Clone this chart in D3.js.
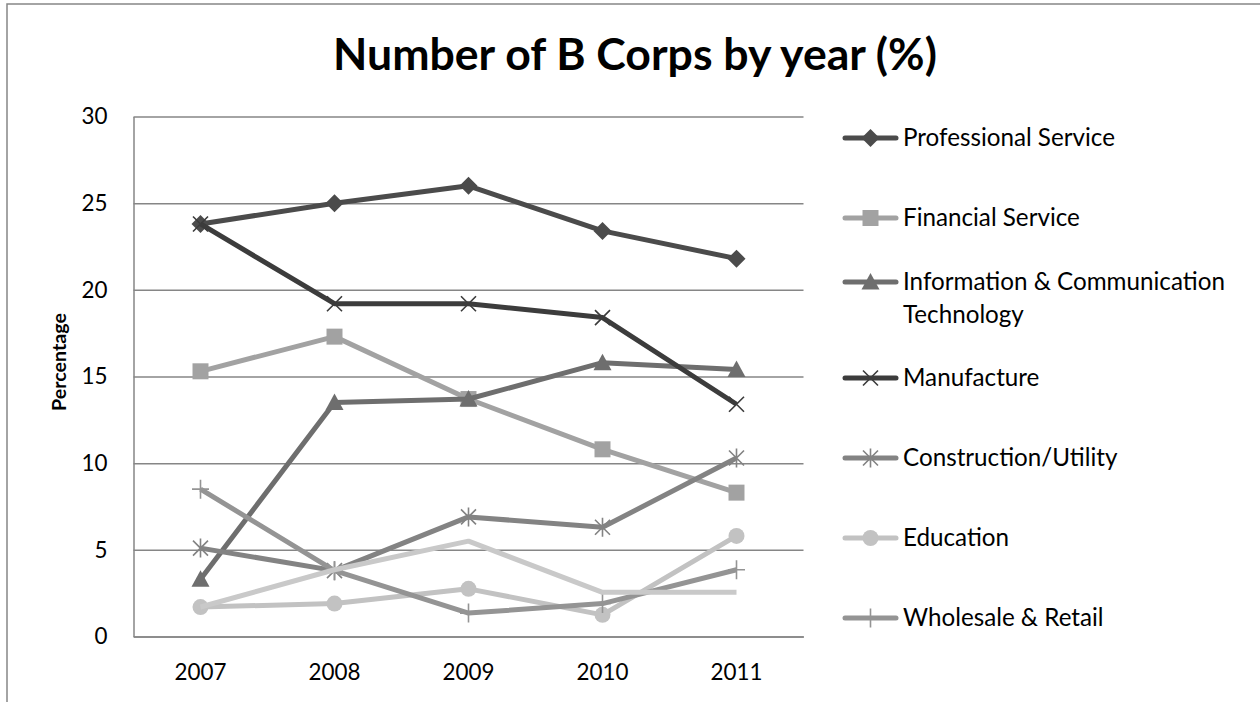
<!DOCTYPE html>
<html>
<head>
<meta charset="utf-8">
<script src="https://cdn.jsdelivr.net/npm/d3@7"></script>
<style>
  body { margin: 0; background: #fff; }
  svg { display: block; font-family: Lato, "Noto Sans", sans-serif; }
</style>
</head>
<body>
<svg width="1260" height="702"></svg>
<script>
// data
var years = ["2007", "2008", "2009", "2010", "2011"];
var yTicks = [0, 5, 10, 15, 20, 25, 30];

var professional = [23.8, 25.0, 26.0, 23.4, 21.8];
var financial    = [15.3, 17.3, 13.7, 10.8, 8.3];
var ict          = [3.3, 13.5, 13.7, 15.8, 15.4];
var manufacture  = [23.8, 19.2, 19.2, 18.4, 13.4];
var construction = [5.1, 3.8, 6.9, 6.3, 10.3];
var education    = [1.7, 1.9, 2.75, 1.25, 5.8];
var wholesale    = [8.5, 3.8, 1.35, 1.9, 3.85];
var other        = [1.7, 3.85, 5.5, 2.55, 2.55];   // 8th series, legend entry cut off

var names   = ["Professional Service", "Financial Service", "Information & Communication Technology",
               "Manufacture", "Construction/Utility", "Education", "Wholesale & Retail", ""];
var values  = [professional, financial, ict, manufacture, construction, education, wholesale, other];
var colors  = ["#4b4b4b", "#a2a2a2", "#6e6e6e", "#3c3c3c", "#838383", "#c2c2c2", "#949494", "#c9c9c9"];
var markers = ["diamond", "square", "triangle", "x", "asterisk", "circle", "plus", "none"];

var series = names.map(function(n, i) {
  return {name: n, values: values[i], color: colors[i], marker: markers[i]};
});

var svg = d3.select("svg");

// outer chart frame (runs off the right and bottom edges)
svg.append("rect")
  .attr("x", 7).attr("y", 4)
  .attr("width", 1270).attr("height", 720)
  .attr("fill", "none").attr("stroke", "#868686").attr("stroke-width", 1.5);

var plot = {left: 133.5, right: 803.5, top: 116.5, bottom: 636.5};

var x = d3.scaleBand().domain(years).range([plot.left, plot.right]);
var y = d3.scaleLinear().domain([0, 30]).range([plot.bottom, plot.top]);
function cx(i) { return x(years[i]) + x.bandwidth() / 2; }

// pick a font size so a given string comes out at a given width
function fitSize(text, weight, width) {
  var t = svg.append("text").attr("font-size", 100).attr("font-weight", weight).text(text);
  var w = t.node().getComputedTextLength();
  t.remove();
  return 100 * width / w;
}
var tickSize = fitSize("2007", "normal", 52);
var legendSize = fitSize("Professional Service", "normal", 212);
var titleSize = fitSize("Number of B Corps by year (%)", "bold", 604);
var axisTitleSize = fitSize("Percentage", "bold", 98);

// gridlines
svg.append("g")
  .attr("transform", "translate(" + plot.left + ",0)")
  .call(d3.axisLeft(y).tickValues(yTicks).tickSize(-(plot.right - plot.left)).tickFormat(""))
  .call(function(g) { g.select(".domain").remove(); })
  .selectAll("line").attr("stroke", "#868686").attr("stroke-width", 1.5);

// y axis
var yAxis = svg.append("g")
  .attr("transform", "translate(" + plot.left + ",0)")
  .call(d3.axisLeft(y).tickValues(yTicks).tickSize(0).tickPadding(26))
  .attr("font-family", null).attr("font-size", tickSize);
yAxis.select(".domain").attr("stroke", "#868686").attr("stroke-width", 1.5);
yAxis.selectAll("text").attr("fill", "#000");

// x axis
var xAxis = svg.append("g")
  .attr("transform", "translate(0," + plot.bottom + ")")
  .call(d3.axisBottom(x).tickSize(0))
  .attr("font-family", null).attr("font-size", tickSize);
xAxis.select(".domain").attr("stroke", "#868686").attr("stroke-width", 1.5);
xAxis.selectAll("text").attr("fill", "#000").attr("dy", null).attr("y", 43.5);

// titles
svg.append("text")
  .attr("x", 635).attr("y", 70)
  .attr("text-anchor", "middle").attr("font-weight", "bold")
  .attr("font-size", titleSize)
  .text("Number of B Corps by year (%)");

svg.append("text")
  .attr("transform", "translate(66,362) rotate(-90)")
  .attr("text-anchor", "middle").attr("font-weight", "bold")
  .attr("font-size", axisTitleSize)
  .text("Percentage");

// marker shapes, centred on 0,0
function markerPath(type) {
  switch (type) {
    case "diamond":  return "M0,-9L9,0L0,9L-9,0Z";
    case "square":   return "M-8,-8H8V8H-8Z";
    case "triangle": return "M0,-9L9,7.5L-9,7.5Z";
    case "x":        return "M-7.5,-7.5L7.5,7.5M-7.5,7.5L7.5,-7.5";
    case "asterisk": return "M-7.5,-7.5L7.5,7.5M-7.5,7.5L7.5,-7.5M0,-9.5V9.5";
    case "plus":     return "M0,-9.5V9.5M-8.5,0H8.5";
    default:         return "";
  }
}
function drawMarker(g, s, px, py) {
  if (s.marker === "none") return;
  if (s.marker === "circle") {
    g.append("circle").attr("cx", px).attr("cy", py).attr("r", 8).attr("fill", s.color);
    return;
  }
  var stroked = (s.marker === "x" || s.marker === "asterisk" || s.marker === "plus");
  g.append("path")
    .attr("transform", "translate(" + px + "," + py + ")")
    .attr("d", markerPath(s.marker))
    .attr("fill", stroked ? "none" : s.color)
    .attr("stroke", stroked ? s.color : "none")
    .attr("stroke-width", 1.6);
}

// series
var line = d3.line()
  .x(function(d, i) { return cx(i); })
  .y(function(d) { return y(d); });

series.forEach(function(s) {
  var g = svg.append("g");
  g.append("path")
    .attr("d", line(s.values))
    .attr("fill", "none")
    .attr("stroke", s.color)
    .attr("stroke-width", 5)
    .attr("stroke-linejoin", "round");
  s.values.forEach(function(v, i) { drawMarker(g, s, cx(i), y(v)); });
});

// legend
var legendY = [138, 218, 282, 378, 458, 538, 618];
var legendLines = [["Professional Service"], ["Financial Service"],
                   ["Information & Communication", "Technology"],
                   ["Manufacture"], ["Construction/Utility"], ["Education"], ["Wholesale & Retail"]];

legendLines.forEach(function(lines, i) {
  var s = series[i];
  var g = svg.append("g");
  var ly = legendY[i];
  g.append("line")
    .attr("x1", 845).attr("x2", 896).attr("y1", ly).attr("y2", ly)
    .attr("stroke", s.color).attr("stroke-width", 5).attr("stroke-linecap", "round");
  drawMarker(g, s, 870.5, ly);
  lines.forEach(function(t, k) {
    g.append("text")
      .attr("x", 903).attr("y", ly + k * 33)
      .attr("dy", "0.35em")
      .attr("font-size", legendSize)
      .text(t);
  });
});
</script>
</body>
</html>
